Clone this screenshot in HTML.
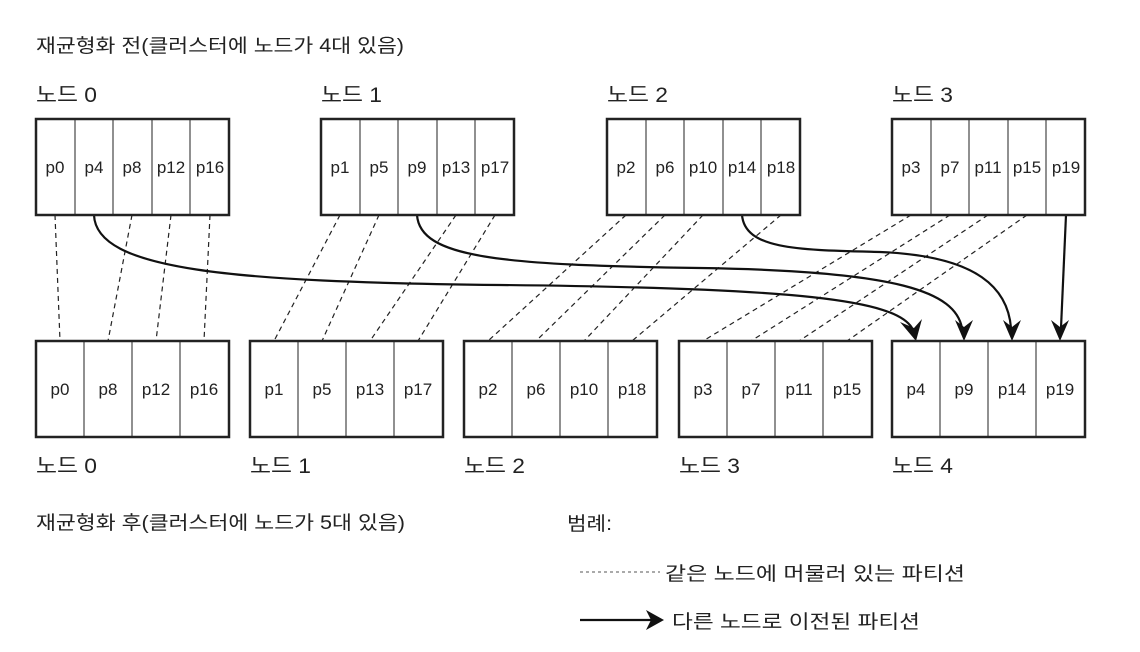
<!DOCTYPE html>
<html><head><meta charset="utf-8"><style>
body{margin:0;background:#fff;}
svg{display:block;font-family:"Liberation Sans","Noto Sans CJK KR",sans-serif;}
</style></head><body>
<svg width="1140" height="652" viewBox="0 0 1140 652" xmlns="http://www.w3.org/2000/svg">
<g fill="#222" font-size="19">
<text x="36" y="52" textLength="368" lengthAdjust="spacingAndGlyphs">재균형화 전(클러스터에 노드가 4대 있음)</text>
<text x="36" y="529" textLength="369" lengthAdjust="spacingAndGlyphs">재균형화 후(클러스터에 노드가 5대 있음)</text>
<text x="567" y="530" textLength="45" lengthAdjust="spacingAndGlyphs">범례:</text>
<text x="665" y="580" textLength="300" lengthAdjust="spacingAndGlyphs">같은 노드에 머물러 있는 파티션</text>
<text x="672" y="628" textLength="248" lengthAdjust="spacingAndGlyphs">다른 노드로 이전된 파티션</text>
</g>
<g fill="#222" font-size="21">
<text x="36" y="102" textLength="61" lengthAdjust="spacingAndGlyphs">노드 0</text><text x="321" y="102" textLength="61" lengthAdjust="spacingAndGlyphs">노드 1</text><text x="607" y="102" textLength="61" lengthAdjust="spacingAndGlyphs">노드 2</text><text x="892" y="102" textLength="61" lengthAdjust="spacingAndGlyphs">노드 3</text>
<text x="36" y="473" textLength="61" lengthAdjust="spacingAndGlyphs">노드 0</text><text x="250" y="473" textLength="61" lengthAdjust="spacingAndGlyphs">노드 1</text><text x="464" y="473" textLength="61" lengthAdjust="spacingAndGlyphs">노드 2</text><text x="679" y="473" textLength="61" lengthAdjust="spacingAndGlyphs">노드 3</text><text x="892" y="473" textLength="61" lengthAdjust="spacingAndGlyphs">노드 4</text>
</g>
<g stroke="#222" stroke-width="1.2" stroke-dasharray="5,4" fill="none">
<line x1="55" y1="215" x2="60" y2="341"/><line x1="132" y1="215" x2="108" y2="341"/><line x1="171" y1="215" x2="156" y2="341"/><line x1="210" y1="215" x2="204" y2="341"/>
<line x1="340" y1="215" x2="274" y2="341"/><line x1="379" y1="215" x2="322" y2="341"/><line x1="456" y1="215" x2="370" y2="341"/><line x1="495" y1="215" x2="418" y2="341"/>
<line x1="626" y1="215" x2="488" y2="341"/><line x1="665" y1="215" x2="536" y2="341"/><line x1="703" y1="215" x2="584" y2="341"/><line x1="781" y1="215" x2="632" y2="341"/>
<line x1="911" y1="215" x2="703" y2="341"/><line x1="950" y1="215" x2="751" y2="341"/><line x1="988" y1="215" x2="799" y2="341"/><line x1="1027" y1="215" x2="847" y2="341"/>
<line x1="580" y1="572" x2="660" y2="572" stroke-dasharray="3,3" stroke="#777"/>
</g>
<g stroke="#111" stroke-width="2.2" fill="none">
<path d="M94,215 C96,270 230,282 500,285 C800,288 895,300 912,328"/>
<path d="M417,215 C420,258 500,265 700,268 C900,271 955,292 962,328"/>
<path d="M742,215 C745,250 800,250 880,252 C980,256 1008,290 1011,328"/>
<path d="M1066,215 L1061,328"/>
<line x1="580" y1="620" x2="652" y2="620"/>
</g>
<g fill="#111">
<polygon points="916,341 900,322 914,328 922,319"/>
<polygon points="964,341 955,320 964,327 973,320"/>
<polygon points="1012,341 1003,320 1012,327 1021,320"/>
<polygon points="1060,341 1051,320 1060,327 1069,320"/>
<polygon points="664,620 646,610 651,620 646,630"/>
</g>
<g stroke="#222" fill="none">
<g stroke-width="2.5">
<rect x="36" y="119" width="193" height="96"/><rect x="321" y="119" width="193" height="96"/><rect x="607" y="119" width="193" height="96"/><rect x="892" y="119" width="193" height="96"/>
<rect x="36" y="341" width="193" height="96"/><rect x="250" y="341" width="193" height="96"/><rect x="464" y="341" width="193" height="96"/><rect x="679" y="341" width="193" height="96"/><rect x="892" y="341" width="193" height="96"/>
</g>
<g stroke-width="1">
<path d="M75,119V215M113,119V215M152,119V215M190,119V215"/>
<path d="M360,119V215M398,119V215M437,119V215M475,119V215"/>
<path d="M646,119V215M684,119V215M723,119V215M761,119V215"/>
<path d="M931,119V215M969,119V215M1008,119V215M1046,119V215"/>
<path d="M84,341V437M132,341V437M180,341V437"/>
<path d="M298,341V437M346,341V437M394,341V437"/>
<path d="M512,341V437M560,341V437M608,341V437"/>
<path d="M727,341V437M775,341V437M823,341V437"/>
<path d="M940,341V437M988,341V437M1036,341V437"/>
</g>
</g>
<g fill="#222" font-size="17" text-anchor="middle">
<text x="55" y="173">p0</text><text x="94" y="173">p4</text><text x="132" y="173">p8</text><text x="171" y="173">p12</text><text x="210" y="173">p16</text>
<text x="340" y="173">p1</text><text x="379" y="173">p5</text><text x="417" y="173">p9</text><text x="456" y="173">p13</text><text x="495" y="173">p17</text>
<text x="626" y="173">p2</text><text x="665" y="173">p6</text><text x="703" y="173">p10</text><text x="742" y="173">p14</text><text x="781" y="173">p18</text>
<text x="911" y="173">p3</text><text x="950" y="173">p7</text><text x="988" y="173">p11</text><text x="1027" y="173">p15</text><text x="1066" y="173">p19</text>
<text x="60" y="395">p0</text><text x="108" y="395">p8</text><text x="156" y="395">p12</text><text x="204" y="395">p16</text>
<text x="274" y="395">p1</text><text x="322" y="395">p5</text><text x="370" y="395">p13</text><text x="418" y="395">p17</text>
<text x="488" y="395">p2</text><text x="536" y="395">p6</text><text x="584" y="395">p10</text><text x="632" y="395">p18</text>
<text x="703" y="395">p3</text><text x="751" y="395">p7</text><text x="799" y="395">p11</text><text x="847" y="395">p15</text>
<text x="916" y="395">p4</text><text x="964" y="395">p9</text><text x="1012" y="395">p14</text><text x="1060" y="395">p19</text>
</g>
</svg>
</body></html>
